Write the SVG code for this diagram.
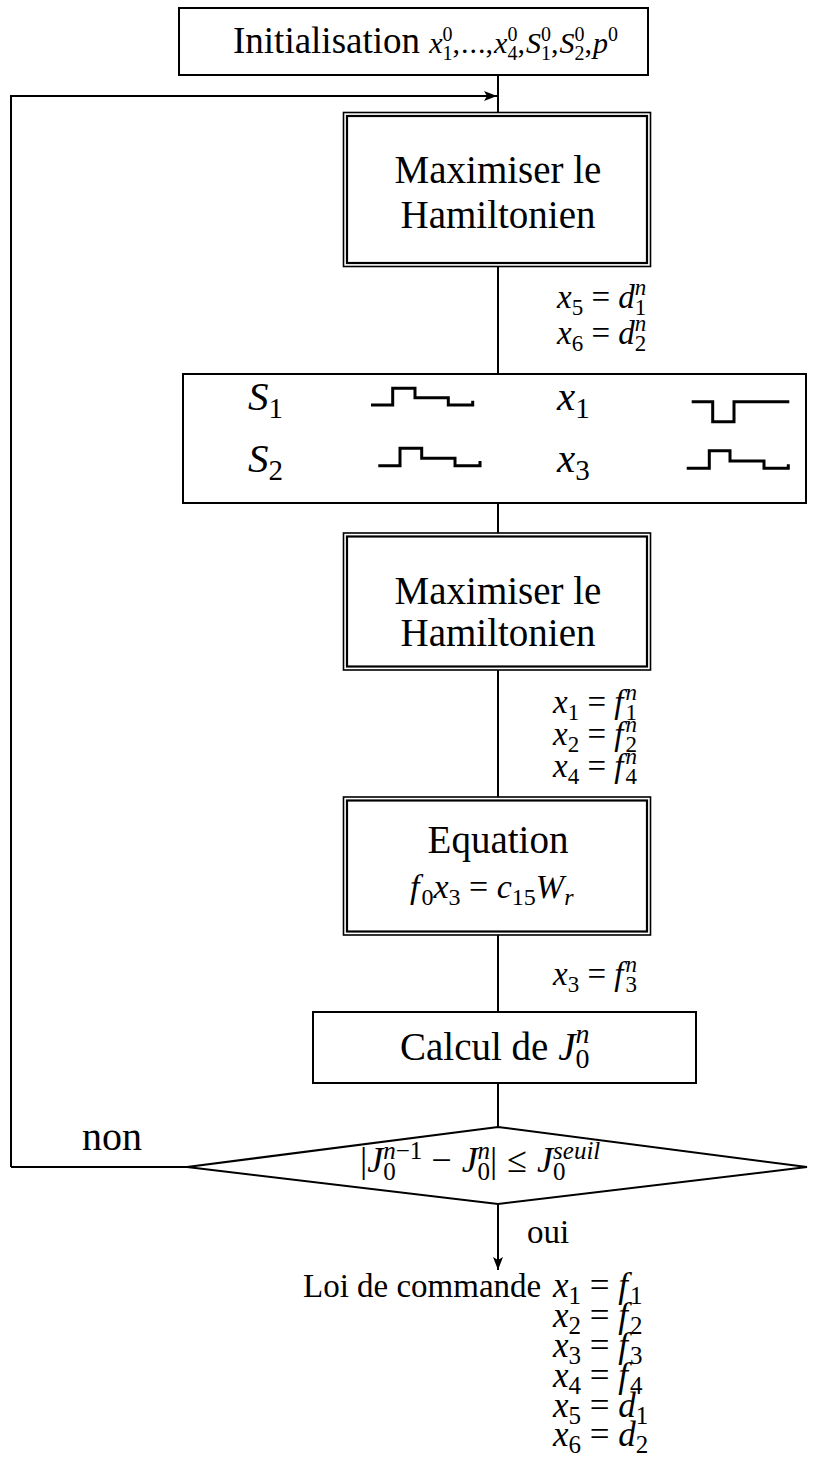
<svg xmlns="http://www.w3.org/2000/svg" width="822" height="1461" viewBox="0 0 822 1461">
<style>
.t{font-family:"Liberation Serif","Times New Roman",serif;fill:#000}
.i{font-style:italic}
.ln{stroke:#000;stroke-width:2;fill:none}
.box{fill:#fff;stroke:#000;stroke-width:2}
.out{fill:#fff;stroke:#000;stroke-width:1.6}
.dbl{fill:none;stroke:#000;stroke-width:2.2}
.wave{stroke:#000;stroke-width:3;fill:none}
.big{font-size:39px}
.lab{font-size:33px}
.bot{font-size:35px}
</style>
<defs>
<marker id="arr" markerUnits="userSpaceOnUse" markerWidth="14" markerHeight="12" refX="13" refY="5" orient="auto">
<path d="M0,0 L13,5 L0,10 L3,5 z" fill="#000"/>
</marker>
</defs>
<rect width="822" height="1461" fill="#fff"/>
<g id="connectors">
<line class="ln" x1="498" y1="75" x2="498" y2="113"/>
<path class="ln" d="M11,1167 L11,96 L497,96" marker-end="url(#arr)"/>
<line class="ln" x1="11" y1="1167" x2="187" y2="1167"/>
<line class="ln" x1="498" y1="266" x2="498" y2="374"/>
<line class="ln" x1="498" y1="503" x2="498" y2="533"/>
<line class="ln" x1="498" y1="670" x2="498" y2="797"/>
<line class="ln" x1="498" y1="935" x2="498" y2="1012"/>
<line class="ln" x1="498" y1="1083" x2="498" y2="1127"/>
<line class="ln" x1="498" y1="1204" x2="498" y2="1270" marker-end="url(#arr)"/>
</g>
<g id="init">
<rect class="box" x="179" y="8" width="469" height="67"/>
<text class="t" font-size="37" x="233" y="53">Initialisation <tspan font-size="30"><tspan class="i">x</tspan><tspan font-size="20" dy="7">1</tspan><tspan font-size="20" dx="-10" dy="-19">0</tspan><tspan dy="12">,</tspan><tspan dx="1">.</tspan><tspan dx="1">.</tspan><tspan dx="1">.</tspan><tspan>,</tspan><tspan class="i" dx="1">x</tspan><tspan font-size="20" dy="7">4</tspan><tspan font-size="20" dx="-10" dy="-19">0</tspan><tspan dy="12">,</tspan><tspan class="i" dx="1">S</tspan><tspan font-size="20" dy="7">1</tspan><tspan font-size="20" dx="-10" dy="-19">0</tspan><tspan dy="12">,</tspan><tspan class="i" dx="1">S</tspan><tspan font-size="20" dy="7">2</tspan><tspan font-size="20" dx="-10" dy="-19">0</tspan><tspan dy="12">,</tspan><tspan class="i" dx="1">p</tspan><tspan font-size="20" dy="-12">0</tspan></tspan></text>
</g>
<g id="max1">
<rect class="out" x="343.5" y="112.5" width="307" height="154"/>
<rect class="dbl" x="347" y="116" width="300" height="147"/>
<text class="t big" x="498" y="183" text-anchor="middle">Maximiser le</text>
<text class="t big" x="498" y="228" text-anchor="middle">Hamiltonien</text>
</g>
<g id="lab1">
<text class="t lab" x="557" y="308"><tspan class="i">x</tspan><tspan font-size="23" dy="7">5</tspan><tspan dy="-7"> = </tspan><tspan class="i">d</tspan><tspan font-size="23" dy="7">1</tspan><tspan class="i" font-size="23" dx="-11.5" dy="-20">n</tspan></text>
<text class="t lab" x="557" y="344"><tspan class="i">x</tspan><tspan font-size="23" dy="7">6</tspan><tspan dy="-7"> = </tspan><tspan class="i">d</tspan><tspan font-size="23" dy="7">2</tspan><tspan class="i" font-size="23" dx="-11.5" dy="-20">n</tspan></text>
</g>
<g id="signals">
<rect class="box" x="183" y="374" width="623" height="129"/>
<text class="t" font-size="41" x="248" y="410"><tspan class="i">S</tspan><tspan font-size="29" dy="8">1</tspan></text>
<text class="t" font-size="41" x="248" y="472"><tspan class="i">S</tspan><tspan font-size="29" dy="8">2</tspan></text>
<text class="t" font-size="41" x="557" y="410"><tspan class="i">x</tspan><tspan font-size="29" dy="8">1</tspan></text>
<text class="t" font-size="41" x="557" y="472"><tspan class="i">x</tspan><tspan font-size="29" dy="8">3</tspan></text>
<polyline class="wave" points="371,405 392.7,405 392.7,388.3 415,388.3 415,397.7 448.3,397.7 448.3,405 472.7,405 472.7,400.7"/>
<polyline class="wave" points="378.3,465.7 400,465.7 400,448.3 421.7,448.3 421.7,458.3 455,458.3 455,465.7 480,465.7 480,461"/>
<polyline class="wave" points="691.7,401.7 712.7,401.7 712.7,421.7 734,421.7 734,401.7 789.3,401.7"/>
<polyline class="wave" points="686.7,468.3 709.3,468.3 709.3,450.7 730,450.7 730,461 764,461 764,468.3 788.3,468.3 788.3,464.3"/>
</g>
<g id="max2">
<rect class="out" x="343.5" y="533" width="307" height="137"/>
<rect class="dbl" x="347" y="536.5" width="300" height="130"/>
<text class="t big" x="498" y="604" text-anchor="middle">Maximiser le</text>
<text class="t big" x="498" y="646" text-anchor="middle">Hamiltonien</text>
</g>
<g id="lab2">
<text class="t lab" x="553" y="713"><tspan class="i">x</tspan><tspan font-size="23" dy="7">1</tspan><tspan dy="-7"> = </tspan><tspan class="i">f</tspan><tspan font-size="23" dy="7" dx="2">1</tspan><tspan class="i" font-size="23" dx="-11.5" dy="-20">n</tspan></text>
<text class="t lab" x="553" y="745"><tspan class="i">x</tspan><tspan font-size="23" dy="7">2</tspan><tspan dy="-7"> = </tspan><tspan class="i">f</tspan><tspan font-size="23" dy="7" dx="2">2</tspan><tspan class="i" font-size="23" dx="-11.5" dy="-20">n</tspan></text>
<text class="t lab" x="553" y="777"><tspan class="i">x</tspan><tspan font-size="23" dy="7">4</tspan><tspan dy="-7"> = </tspan><tspan class="i">f</tspan><tspan font-size="23" dy="7" dx="2">4</tspan><tspan class="i" font-size="23" dx="-11.5" dy="-20">n</tspan></text>
</g>
<g id="equation">
<rect class="out" x="343.5" y="797" width="307" height="138"/>
<rect class="dbl" x="347" y="800.5" width="300" height="131"/>
<text class="t big" x="498" y="853" text-anchor="middle">Equation</text>
<text class="t" font-size="34" x="410" y="898"><tspan class="i">f</tspan><tspan font-size="24" dy="7" dx="2">0</tspan><tspan class="i" dy="-7">x</tspan><tspan font-size="24" dy="7">3</tspan><tspan dy="-7"> = </tspan><tspan class="i">c</tspan><tspan font-size="24" dy="7">15</tspan><tspan class="i" dy="-7">W</tspan><tspan class="i" font-size="24" dy="7">r</tspan></text>
</g>
<g id="lab3">
<text class="t lab" x="553" y="985"><tspan class="i">x</tspan><tspan font-size="23" dy="7">3</tspan><tspan dy="-7"> = </tspan><tspan class="i">f</tspan><tspan font-size="23" dy="7" dx="2">3</tspan><tspan class="i" font-size="23" dx="-11.5" dy="-20">n</tspan></text>
</g>
<g id="calcul">
<rect class="box" x="313" y="1012" width="383" height="71"/>
<text class="t big" x="400" y="1060">Calcul de <tspan class="i">J</tspan><tspan font-size="28" dy="8">0</tspan><tspan class="i" font-size="28" dx="-14" dy="-25">n</tspan></text>
</g>
<g id="test">
<polygon class="box" points="498,1127 807,1167 498,1204 187,1167"/>
<text class="t" font-size="36" x="360" y="1172">|<tspan class="i">J</tspan><tspan font-size="25" dy="8">0</tspan><tspan font-size="25" dx="-12.5" dy="-21"><tspan class="i">n</tspan>−1</tspan><tspan dy="13" dx="9">−</tspan><tspan class="i" dx="10">J</tspan><tspan font-size="25" dy="8">0</tspan><tspan class="i" font-size="25" dx="-12.5" dy="-21">n</tspan><tspan dy="13">|</tspan><tspan dx="10">≤</tspan><tspan class="i" dx="10">J</tspan><tspan font-size="25" dy="8">0</tspan><tspan class="i" font-size="25" dx="-12.5" dy="-21">seuil</tspan></text>
<text class="t" font-size="40" x="82" y="1150">non</text>
<text class="t" font-size="33" x="527" y="1243">oui</text>
</g>
<g id="result">
<text class="t" font-size="33" x="303" y="1297">Loi de commande</text>
<text class="t bot" x="553" y="1297"><tspan class="i">x</tspan><tspan font-size="25" dy="7">1</tspan><tspan dy="-7"> = </tspan><tspan class="i">f</tspan><tspan font-size="25" dy="7" dx="2">1</tspan></text>
<text class="t bot" x="553" y="1327"><tspan class="i">x</tspan><tspan font-size="25" dy="7">2</tspan><tspan dy="-7"> = </tspan><tspan class="i">f</tspan><tspan font-size="25" dy="7" dx="2">2</tspan></text>
<text class="t bot" x="553" y="1357"><tspan class="i">x</tspan><tspan font-size="25" dy="7">3</tspan><tspan dy="-7"> = </tspan><tspan class="i">f</tspan><tspan font-size="25" dy="7" dx="2">3</tspan></text>
<text class="t bot" x="553" y="1387"><tspan class="i">x</tspan><tspan font-size="25" dy="7">4</tspan><tspan dy="-7"> = </tspan><tspan class="i">f</tspan><tspan font-size="25" dy="7" dx="2">4</tspan></text>
<text class="t bot" x="553" y="1417"><tspan class="i">x</tspan><tspan font-size="25" dy="7">5</tspan><tspan dy="-7"> = </tspan><tspan class="i">d</tspan><tspan font-size="25" dy="7">1</tspan></text>
<text class="t bot" x="553" y="1446"><tspan class="i">x</tspan><tspan font-size="25" dy="7">6</tspan><tspan dy="-7"> = </tspan><tspan class="i">d</tspan><tspan font-size="25" dy="7">2</tspan></text>
</g>
</svg>
